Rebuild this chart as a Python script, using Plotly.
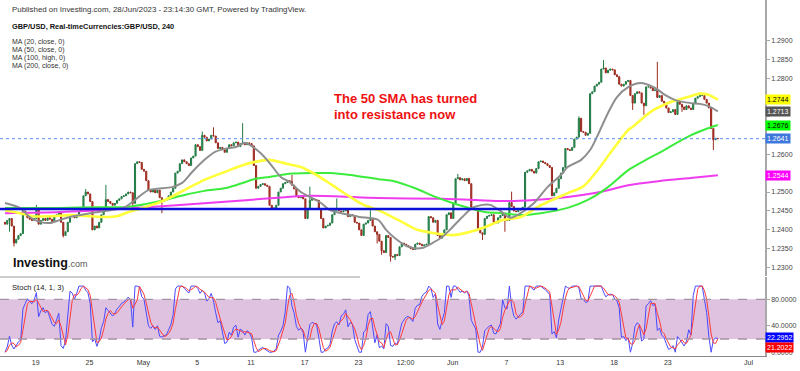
import plotly.graph_objects as go
import pandas as pd

# ---------------- data (GBP/USD, 4h candles) ----------------
# candles just before the visible window (only used to warm up the stochastic)
pre_closes = [1.2495, 1.2490, 1.2500, 1.2505, 1.2510, 1.2525, 1.2535,
              1.2540, 1.2500, 1.2470, 1.2440, 1.2425, 1.2430, 1.2420]

closes = [
    1.2415, 1.2425, 1.2430, 1.2410, 1.2365, 1.2375, 1.2385, 1.2390, 1.2450, 1.2440,
    1.2432, 1.2428, 1.2425, 1.2430, 1.2455, 1.2415, 1.2425, 1.2430, 1.2425, 1.2432,
    1.2428, 1.2422, 1.2435, 1.2440, 1.2445, 1.2420, 1.2385, 1.2395, 1.2420, 1.2440,
    1.2438, 1.2432, 1.2438, 1.2448, 1.2455, 1.2490, 1.2500, 1.2495, 1.2475, 1.2400,
    1.2410, 1.2405, 1.2420, 1.2440, 1.2450, 1.2480, 1.2475, 1.2470, 1.2465, 1.2470,
    1.2478, 1.2482, 1.2488, 1.2490, 1.2495, 1.2500, 1.2498, 1.2470, 1.2575, 1.2580,
    1.2578, 1.2560, 1.2555, 1.2530, 1.2505, 1.2500, 1.2505, 1.2498, 1.2505, 1.2485,
    1.2475, 1.2478, 1.2480, 1.2490, 1.2500, 1.2510, 1.2550, 1.2555, 1.2575, 1.2585,
    1.2580, 1.2575, 1.2570, 1.2590, 1.2595, 1.2625, 1.2620, 1.2610, 1.2650, 1.2645,
    1.2635, 1.2640, 1.2650, 1.2648, 1.2630, 1.2615, 1.2618, 1.2612, 1.2605, 1.2615,
    1.2625, 1.2622, 1.2630, 1.2632, 1.2620, 1.2628, 1.2630, 1.2625, 1.2630, 1.2628,
    1.2622, 1.2570, 1.2510, 1.2515, 1.2520, 1.2522, 1.2518, 1.2515, 1.2465, 1.2455,
    1.2458, 1.2465, 1.2500, 1.2510, 1.2522, 1.2525, 1.2530, 1.2528, 1.2518, 1.2508,
    1.2490, 1.2485, 1.2488, 1.2482, 1.2430, 1.2455, 1.2478, 1.2482, 1.2480, 1.2478,
    1.2455, 1.2430, 1.2405, 1.2410, 1.2412, 1.2418, 1.2440, 1.2452, 1.2455, 1.2450,
    1.2448, 1.2450, 1.2455, 1.2435, 1.2440, 1.2438, 1.2420, 1.2418, 1.2400, 1.2385,
    1.2415, 1.2418, 1.2425, 1.2428, 1.2410, 1.2395, 1.2388, 1.2370, 1.2345, 1.2340,
    1.2385, 1.2380, 1.2330, 1.2328, 1.2335, 1.2332, 1.2355, 1.2365, 1.2362, 1.2358,
    1.2355, 1.2350, 1.2348, 1.2362, 1.2365, 1.2362, 1.2358, 1.2360, 1.2362, 1.2435,
    1.2432, 1.2420, 1.2425, 1.2385, 1.2378, 1.2390, 1.2400, 1.2440, 1.2445, 1.2430,
    1.2470, 1.2535, 1.2538, 1.2532, 1.2535, 1.2530, 1.2536, 1.2522, 1.2460, 1.2455,
    1.2452, 1.2400, 1.2392, 1.2388, 1.2430, 1.2436, 1.2438, 1.2440, 1.2420, 1.2418,
    1.2432, 1.2438, 1.2442, 1.2428, 1.2425, 1.2472, 1.2462, 1.2450, 1.2448, 1.2452,
    1.2455, 1.2460, 1.2552, 1.2556, 1.2560, 1.2555, 1.2550, 1.2562, 1.2580, 1.2582,
    1.2578, 1.2575, 1.2570, 1.2565, 1.2490, 1.2498, 1.2510, 1.2535, 1.2550, 1.2565,
    1.2615, 1.2612, 1.2610, 1.2618, 1.2640, 1.2645, 1.2695, 1.2660, 1.2658, 1.2650,
    1.2655, 1.2760, 1.2765, 1.2780, 1.2785, 1.2790, 1.2825, 1.2828, 1.2815, 1.2822,
    1.2825, 1.2823, 1.2810, 1.2805, 1.2785, 1.2780, 1.2785, 1.2792, 1.2795, 1.2755,
    1.2735, 1.2760, 1.2765, 1.2762, 1.2735, 1.2728, 1.2778, 1.2778, 1.2775, 1.2768,
    1.2770, 1.2750, 1.2755, 1.2740, 1.2735, 1.2722, 1.2710, 1.2712, 1.2718, 1.2705,
    1.2738, 1.2732, 1.2725, 1.2718, 1.2728, 1.2722, 1.2718, 1.2735, 1.2748, 1.2752,
    1.2755, 1.2755, 1.2745, 1.2735, 1.2722, 1.2668, 1.2638, 1.2642, 1.2641,
]

# visible wicks (candle index -> price)
wick_highs = {14: 1.2466, 36: 1.2508, 45: 1.2519, 88: 1.2660, 93: 1.2671, 106: 1.2682,
              128: 1.2545, 136: 1.2514, 148: 1.2483, 163: 1.2452, 202: 1.2548,
              226: 1.2501, 256: 1.2700, 267: 1.2849, 291: 1.2844}
wick_lows = {2: 1.2395, 4: 1.2356, 26: 1.2380, 57: 1.2455, 70: 1.2444, 166: 1.2364,
             168: 1.2334, 172: 1.2316, 174: 1.2320, 213: 1.2373, 223: 1.2395,
             280: 1.2717, 285: 1.2704, 302: 1.2712, 316: 1.2611}

# moving averages: (candle index, price)
ma20_pts = [(0, 1.2471), (6.7, 1.2458), (11, 1.2434), (15.6, 1.2421), (20, 1.2418), (24.5, 1.2426),
            (29, 1.2434), (38, 1.2444), (47, 1.2452), (53.6, 1.2460), (58, 1.2479), (64, 1.2505),
            (74.5, 1.2513), (79, 1.2524), (83.5, 1.2553), (89, 1.2585), (93.7, 1.2606), (98, 1.2614),
            (103, 1.2619), (107, 1.2630), (109, 1.2625), (114, 1.2603), (118, 1.2577), (123, 1.2540),
            (127, 1.2526), (132, 1.2500), (136, 1.2487), (141, 1.2471), (145, 1.2452), (150, 1.2444),
            (154, 1.2439), (158, 1.2434), (166.5, 1.2426), (170, 1.2400), (174, 1.2378), (180, 1.2355),
            (186, 1.2352), (190.6, 1.2365), (195, 1.2381), (199.6, 1.2407), (204, 1.2434),
            (208.5, 1.2458), (213, 1.2466), (216.5, 1.2466), (221, 1.2450), (225.4, 1.2432),
            (230, 1.2444), (236, 1.2471), (242, 1.2513), (248, 1.2545), (251, 1.2566), (257, 1.2585),
            (261, 1.2611), (264, 1.2645), (269, 1.2709), (273, 1.2751), (278, 1.2777),
            (283.5, 1.2788), (290, 1.2775), (294.6, 1.2756), (299, 1.2743), (306, 1.2735),
            (310, 1.2733), (313.8, 1.2727), (318, 1.2713)]
ma50_pts = [(0, 1.2452), (6.7, 1.2444), (12.5, 1.2436), (20, 1.2436), (29, 1.2439), (38, 1.2436),
            (43.8, 1.2434), (50, 1.2436), (55, 1.2447), (62.5, 1.2460), (71.4, 1.2479), (80, 1.2505),
            (89, 1.2532), (98, 1.2553), (106, 1.2571), (111, 1.2579), (118, 1.2585), (124, 1.2577),
            (132, 1.2566), (139, 1.2545), (146, 1.2518), (154, 1.2487), (160, 1.2466),
            (166.5, 1.2452), (177, 1.2421), (184, 1.2400), (190.6, 1.2392), (199.6, 1.2386),
            (207, 1.2394), (214, 1.2407), (222, 1.2426), (230, 1.2434), (239, 1.2465), (251, 1.2497),
            (258, 1.2515), (264, 1.2555), (270, 1.2603), (278, 1.2664), (280, 1.2672), (288, 1.2712),
            (297, 1.2738), (304.5, 1.2751), (310, 1.2760), (313.8, 1.2757), (318, 1.2744)]
ma100_pts = [(0, 1.2458), (24.5, 1.2458), (42, 1.2460), (53.6, 1.2460), (62.5, 1.2468), (71.4, 1.2479),
             (80, 1.2492), (89, 1.2503), (98, 1.2510), (106, 1.2524), (111, 1.2534), (118, 1.2540),
             (127, 1.2548), (136, 1.2550), (145, 1.2550), (154, 1.2545), (166.5, 1.2534),
             (174, 1.2528), (183, 1.2510), (192, 1.2487), (199.6, 1.2471), (207, 1.2458),
             (214, 1.2447), (222, 1.2444), (230, 1.2439), (239, 1.2444), (251, 1.2458), (260, 1.2479),
             (269, 1.2513), (278, 1.2558), (283.5, 1.2577), (294, 1.2611), (304.5, 1.2646),
             (311.6, 1.2664), (318, 1.2677)]
ma200_pts = [(0, 1.2444), (24.5, 1.2447), (51, 1.2455), (78, 1.2466), (109, 1.2479), (136, 1.2490),
             (166.5, 1.2484), (195, 1.2482), (210, 1.2479), (222, 1.2476), (236, 1.2479),
             (251, 1.2487), (265.5, 1.2500), (278, 1.2518), (292, 1.2529), (305.8, 1.2537),
             (318, 1.2544)]

support_price = 1.2455          # drawn horizontal level
support_end = 246.4             # candle index where the drawn line stops
last_price = 1.2641

# right-axis value boxes: (value, background, text colour)
price_boxes = [(1.2744, "#ffff00", "#000000"), (1.2713, "#555555", "#ffffff"),
               (1.2676, "#00ff00", "#000000"), (1.2641, "#3e78dc", "#ffffff"),
               (1.2544, "#ff00ff", "#ffffff")]
stoch_last_k = 22.2952
stoch_last_d = 21.2022

price_ticks = [1.2300, 1.2350, 1.2400, 1.2450, 1.2500, 1.2550, 1.2600,
               1.2650, 1.2700, 1.2750, 1.2800, 1.2850, 1.2900]
hidden_price_labels = [1.2550, 1.2650, 1.2700, 1.2750]   # covered by the value boxes
stoch_ticks = [0, 40, 80]

# x-axis labels at trading-day positions (6 four-hour candles per day)
tick_days = [3.0, 7.0, 11.0, 15.0, 19.0, 23.0, 27.0, 30.5, 34.0, 38.0, 42.0, 46.0, 50.0, 56.0]
tick_labels = ["19", "25", "May", "5", "11", "17", "23", "12:00", "Jun", "7", "13", "18", "23", "Jul"]
first_candle_day = 0.717
candles_per_day = 6

# ---------------- derived OHLC ----------------
all_close = pre_closes + closes
all_open = [pre_closes[0]] + all_close[:-1]
n_pre = len(pre_closes)
all_high, all_low = [], []
for j, (o, c) in enumerate(zip(all_open, all_close)):
    i = j - n_pre
    all_high.append(max(o, c, wick_highs.get(i, 0)))
    all_low.append(min(o, c, wick_lows.get(i, 9)))

idx = list(range(len(closes)))
opens = all_open[n_pre:]
highs = all_high[n_pre:]
lows = all_low[n_pre:]

# Stochastic (14, 1, 3)
s_close = pd.Series(all_close)
hh = pd.Series(all_high).rolling(14).max()
ll = pd.Series(all_low).rolling(14).min()
k = 100 * (s_close - ll) / (hh - ll)
d = k.rolling(3, min_periods=1).mean()
k_vis = k.iloc[n_pre:].tolist()
d_vis = d.iloc[n_pre:].tolist()

# ---------------- geometry ----------------
W, H = 800, 371
FONT = "Liberation Sans, Arial, sans-serif"
x_dom_right = 765 / W
x_range = [-2.23, 339.03]


def py(p):
    return 1 - p / H


fig = go.Figure()

fig.add_trace(go.Candlestick(
    x=idx, open=opens, high=highs, low=lows, close=closes,
    increasing=dict(fillcolor="#2e9a58", line=dict(color="#237a45", width=1)),
    decreasing=dict(fillcolor="#c2392b", line=dict(color="#9a2a1e", width=1)),
    whiskerwidth=0, hoverinfo="skip", showlegend=False, xaxis="x", yaxis="y"))

for pts, col, w in [(ma200_pts, "#ee3cee", 2), (ma100_pts, "#3cec3c", 2),
                    (ma50_pts, "#ffff3a", 2.6), (ma20_pts, "#8e8e8e", 2)]:
    fig.add_trace(go.Scatter(x=[p[0] for p in pts], y=[p[1] for p in pts], mode="lines",
                             line=dict(color=col, width=w, shape="spline", smoothing=0.8),
                             hoverinfo="skip", showlegend=False, xaxis="x", yaxis="y"))

fig.add_trace(go.Scatter(x=[x_range[0], support_end], y=[support_price, support_price],
                         mode="lines", line=dict(color="#0a10d8", width=2.6),
                         hoverinfo="skip", showlegend=False, xaxis="x", yaxis="y"))

fig.add_trace(go.Scatter(x=idx, y=k_vis, mode="lines", line=dict(color="#4a4aff", width=1),
                         hoverinfo="skip", showlegend=False, xaxis="x", yaxis="y2"))
fig.add_trace(go.Scatter(x=idx, y=d_vis, mode="lines", line=dict(color="#ff3a3a", width=1),
                         hoverinfo="skip", showlegend=False, xaxis="x", yaxis="y2"))

shapes = [
    dict(type="rect", xref="paper", yref="y2", x0=0, x1=x_dom_right, y0=20, y1=80,
         fillcolor="#dec2df", line=dict(width=0), layer="below"),
    dict(type="line", xref="paper", yref="y2", x0=0, x1=x_dom_right, y0=80, y1=80,
         line=dict(color="#a294a2", width=1.3, dash="dash")),
    dict(type="line", xref="paper", yref="y2", x0=0, x1=x_dom_right, y0=20, y1=20,
         line=dict(color="#a294a2", width=1.3, dash="dash")),
    dict(type="line", xref="paper", yref="y", x0=0, x1=x_dom_right, y0=last_price, y1=last_price,
         line=dict(color="#5b8ef0", width=1, dash="dot")),
    dict(type="line", xref="paper", yref="paper", x0=0, x1=360 / W, y0=py(277), y1=py(277),
         line=dict(color="#9a9a9a", width=1)),
]

annotations = [
    dict(text="Published on Investing.com, 28/Jun/2023 - 23:14:30 GMT, Powered by TradingView.",
         x=10 / W, y=py(9.3), font=dict(size=7.9, color="#333333", family=FONT)),
    dict(text="<b>GBP/USD, Real-timeCurrencies:GBP/USD, 240</b>",
         x=10 / W, y=py(26), font=dict(size=7.4, color="#111111", family=FONT)),
    dict(text="MA (20, close, 0)", x=10 / W, y=py(42.3), font=dict(size=7, color="#333", family=FONT)),
    dict(text="MA (50, close, 0)", x=10 / W, y=py(50), font=dict(size=7, color="#333", family=FONT)),
    dict(text="MA (100, high, 0)", x=10 / W, y=py(57.7), font=dict(size=7, color="#333", family=FONT)),
    dict(text="MA (200, close, 0)", x=10 / W, y=py(65.7), font=dict(size=7, color="#333", family=FONT)),
    dict(text="<b>The 50 SMA has turned</b>", x=332 / W, y=py(98.5),
         font=dict(size=13, color="#ee1111", family=FONT)),
    dict(text="<b>into resistance now</b>", x=332 / W, y=py(114.5),
         font=dict(size=13, color="#ee1111", family=FONT)),
    dict(text="<b>Investing</b><span style='font-size:9px;color:#555'>.com</span>",
         x=11 / W, y=py(263), font=dict(size=12.5, color="#111111", family=FONT)),
    dict(text="Stoch (14, 1, 3)", x=10 / W, y=py(287), font=dict(size=7.6, color="#222", family=FONT)),
]
for a in annotations:
    a.update(xref="paper", yref="paper", xanchor="left", yanchor="middle", showarrow=False)

for val, bg, fg in price_boxes:
    annotations.append(dict(text=f"{val:.4f}", xref="paper", yref="y", x=x_dom_right, y=val,
                            xanchor="left", yanchor="middle", showarrow=False, bgcolor=bg,
                            borderpad=1, font=dict(size=7, color=fg, family=FONT)))
annotations.append(dict(text=f"{stoch_last_k:.4f}", xref="paper", yref="y2", x=x_dom_right,
                        y=stoch_last_k, xanchor="left", yanchor="middle", showarrow=False,
                        bgcolor="#0000ff", borderpad=1, font=dict(size=7, color="#ffffff", family=FONT)))
annotations.append(dict(text=f"{stoch_last_d:.4f}", xref="paper", yref="y2", x=x_dom_right,
                        y=stoch_last_d, yshift=-9, xanchor="left", yanchor="middle", showarrow=False,
                        bgcolor="#ff0000", borderpad=1, font=dict(size=7, color="#ffffff", family=FONT)))

axis_common = dict(showgrid=False, zeroline=False, showline=True, linecolor="#a8a8a8", linewidth=1.5,
                   ticks="outside", ticklen=3, tickcolor="#a8a8a8", side="right", anchor="x",
                   automargin=False, tickfont=dict(size=7, color="#444444", family=FONT))

fig.update_layout(
    width=W, height=H, margin=dict(l=0, r=0, t=0, b=0, autoexpand=False),
    paper_bgcolor="white", plot_bgcolor="white", showlegend=False,
    xaxis=dict(domain=[0, x_dom_right], range=x_range, anchor="y2", automargin=False,
               tickvals=[(dd - first_candle_day) * candles_per_day for dd in tick_days],
               ticktext=tick_labels, showgrid=False, zeroline=False, showline=True,
               linecolor="#8a8a8a", linewidth=1, ticks="", rangeslider=dict(visible=False),
               tickfont=dict(size=7, color="#333333", family=FONT)),
    yaxis=dict(domain=[py(276), 1], range=[1.227800, 1.300759], tickvals=price_ticks,
               ticktext=["" if t in hidden_price_labels else f"{t:.4f}" for t in price_ticks],
               **axis_common),
    yaxis2=dict(domain=[py(356), py(277)], range=[-5.69, 113.70],
                tickvals=stoch_ticks, ticktext=[f"{t:.4f}" for t in stoch_ticks], **axis_common),
    shapes=shapes, annotations=annotations,
)

fig.write_html("out.html", config={"displayModeBar": False},
               post_script="document.body.style.margin='0';")
